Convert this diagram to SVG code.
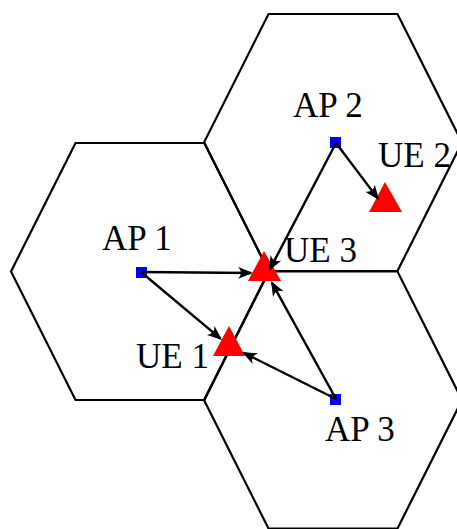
<svg xmlns="http://www.w3.org/2000/svg" width="457" height="529" viewBox="0 0 457 529">
<style>
.hex{fill:none;stroke:#000;stroke-width:2.2;stroke-linejoin:miter}
.ap{fill:#0000ff}
.ue{fill:#ff0000}
.lbl{font-family:"Liberation Serif","Times New Roman",serif;font-size:35px;fill:#000}
.con{stroke:#000;stroke-width:2.4;fill:none;marker-end:url(#arr)}
</style>
<defs>
<marker id="arr" markerUnits="userSpaceOnUse" viewBox="0 0 15 12" refX="13" refY="6" markerWidth="15" markerHeight="12" orient="auto">
<path d="M15,6 L0,0 Q6,6 0,12 Z" fill="#000"/>
</marker>
</defs>
<g id="cells">
<polygon class="hex" points="11,271.5 75.5,143 204.5,143 269,271.5 204.5,400 75.5,400"/>
<polygon class="hex" points="204,142.5 268.5,14 397.5,14 462,142.5 397.5,271 268.5,271"/>
<polygon class="hex" points="204,400 268.5,271.5 397.5,271.5 462,400 397.5,528.5 268.5,528.5"/>
</g>
<g id="ue1"><polygon class="ue" points="229,326 245,356 213,356"/><text class="lbl" x="136" y="368">UE 1</text></g>
<g id="ue2"><polygon class="ue" points="385,182 402,212 369,212"/><text class="lbl" x="378" y="167">UE 2</text></g>
<g id="ue3"><polygon class="ue" points="264,251 281,281 248,281"/><text class="lbl" x="284" y="262">UE 3</text></g>
<g id="ap1"><rect class="ap" x="136" y="267" width="11" height="11"/><text class="lbl" x="102" y="250">AP 1</text></g>
<g id="ap2"><rect class="ap" x="330" y="137" width="11" height="11"/><text class="lbl" x="293" y="117">AP 2</text></g>
<g id="ap3"><rect class="ap" x="330" y="394" width="11" height="11"/><text class="lbl" x="325" y="441">AP 3</text></g>
<g id="connectors">
<line class="con" x1="141" y1="272" x2="251" y2="273"/>
<line class="con" x1="141" y1="272" x2="220.5" y2="338.7"/>
<line class="con" x1="336" y1="143" x2="269.9" y2="269.2"/>
<line class="con" x1="336" y1="143" x2="377.8" y2="198.4"/>
<line class="con" x1="336" y1="399" x2="272" y2="282.8"/>
<line class="con" x1="336" y1="399" x2="243.8" y2="352.9"/>
</g>
</svg>
